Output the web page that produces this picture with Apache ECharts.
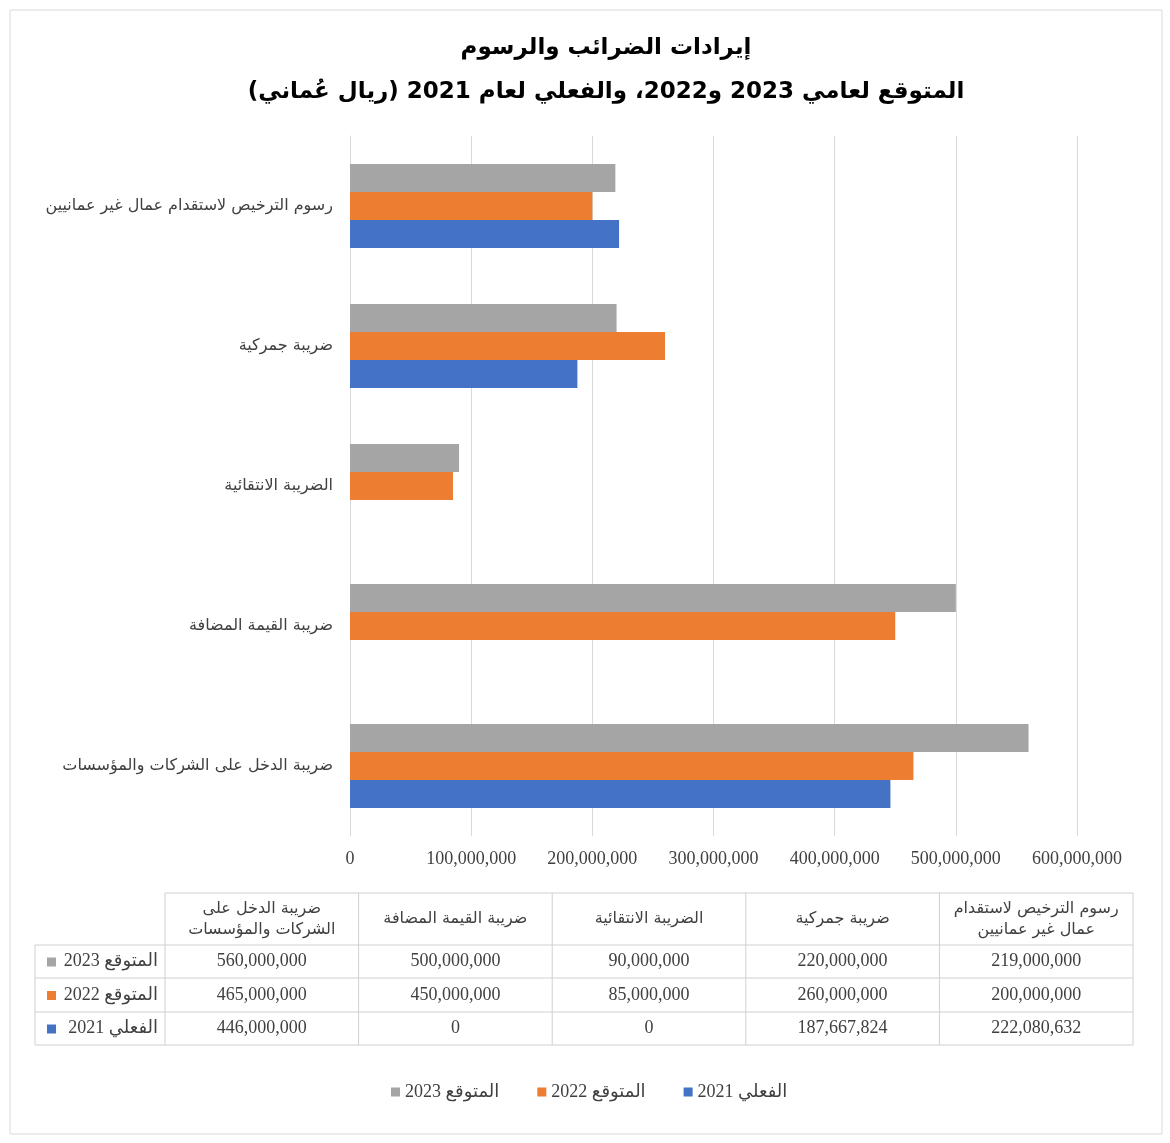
<!DOCTYPE html>
<html>
<head>
<meta charset="utf-8">
<script src="https://cdn.jsdelivr.net/npm/echarts@6/dist/echarts.min.js"></script>
<style>
  html, body { margin: 0; padding: 0; background: #fff; }
  #chart { width: 1170px; height: 1143px; direction: rtl; }
</style>
</head>
<body>
<div id="chart"></div>
<script>
// categories, bottom to top on the y axis (also left to right in the table)
const categories = [
  "ضريبة الدخل على الشركات والمؤسسات",
  "ضريبة القيمة المضافة",
  "الضريبة الانتقائية",
  "ضريبة جمركية",
  "رسوم الترخيص لاستقدام عمال غير عمانيين"
];
// header text in the data table (wrapped)
const tableHeaders = [
  "ضريبة الدخل على\nالشركات والمؤسسات",
  "ضريبة القيمة المضافة",
  "الضريبة الانتقائية",
  "ضريبة جمركية",
  "رسوم الترخيص لاستقدام\nعمال غير عمانيين"
];
const seriesNames = ["الفعلي 2021", "المتوقع 2022", "المتوقع 2023"];
const actual2021 = [446000000, 0, 0, 187667824, 222080632];
const expected2022 = [465000000, 450000000, 85000000, 260000000, 200000000];
const expected2023 = [560000000, 500000000, 90000000, 220000000, 219000000];
const xTicks = [0, 100000000, 200000000, 300000000, 400000000, 500000000, 600000000];

const titleLines = [
  "إيرادات الضرائب والرسوم",
  "المتوقع لعامي 2023 و2022، والفعلي لعام 2021 (ريال عُماني)"
];

const colors = ["#4472C4", "#ED7D31", "#A5A5A5"];
const seriesData = [actual2021, expected2022, expected2023];
const numFont = "'Liberation Serif', 'DejaVu Sans', serif";
const arFont = "'DejaVu Sans', sans-serif";
const fmt = v => v.toLocaleString("en-US");

const chart = echarts.init(document.getElementById("chart"));

// data table geometry
const tLeft = 165, tRight = 1133, labelLeft = 35;
const colW = (tRight - tLeft) / categories.length;
const rowY = [893, 945, 978, 1012, 1045];
const lineColor = "#d0d0d0";

const graphics = [];
// outer frame
graphics.push({
  type: "rect", shape: { x: 10, y: 10, width: 1152, height: 1124 },
  style: { fill: "none", stroke: "#d9d9d9", lineWidth: 1 }, silent: true
});
// title
titleLines.forEach((t, i) => {
  graphics.push({
    type: "text", x: 606, y: i === 0 ? 48 : 92,
    style: {
      text: t, font: "bold 23px " + arFont, fill: "#000",
      textAlign: "center", textVerticalAlign: "middle"
    }
  });
});

// table lines
const hLine = (x1, x2, y) => graphics.push({
  type: "line", shape: { x1, y1: y, x2, y2: y },
  style: { stroke: lineColor, lineWidth: 1 }, silent: true
});
const vLine = (x, y1, y2) => graphics.push({
  type: "line", shape: { x1: x, y1, x2: x, y2 },
  style: { stroke: lineColor, lineWidth: 1 }, silent: true
});
hLine(tLeft, tRight, rowY[0]);
for (let i = 1; i < rowY.length; i++) hLine(labelLeft, tRight, rowY[i]);
vLine(labelLeft, rowY[1], rowY[4]);
for (let c = 0; c <= categories.length; c++) vLine(tLeft + c * colW, rowY[0], rowY[4]);

// header cells
tableHeaders.forEach((h, c) => {
  graphics.push({
    type: "text", x: tLeft + (c + 0.5) * colW, y: (rowY[0] + rowY[1]) / 2,
    style: {
      text: h, font: "16px " + arFont, fill: "#404040", lineHeight: 21,
      textAlign: "center", textVerticalAlign: "middle"
    }
  });
});

// data rows: 2023, 2022, 2021 top to bottom
[2, 1, 0].forEach((s, r) => {
  const yMid = (rowY[r + 1] + rowY[r + 2]) / 2;
  graphics.push({
    type: "rect", shape: { x: 47, y: yMid - 4, width: 9, height: 9 },
    style: { fill: colors[s] }
  });
  graphics.push({
    type: "text", x: 158, y: yMid,
    style: {
      text: seriesNames[s], font: "18px " + numFont, fill: "#404040",
      textAlign: "right", textVerticalAlign: "middle"
    }
  });
  seriesData[s].forEach((v, c) => {
    graphics.push({
      type: "text", x: tLeft + (c + 0.5) * colW, y: yMid,
      style: {
        text: fmt(v), font: "18px " + numFont, fill: "#404040",
        textAlign: "center", textVerticalAlign: "middle"
      }
    });
  });
});

// series drawn 2023 first so that it sits at the top of each group
const barOrder = [2, 1, 0];

const option = {
  animation: false,
  grid: { left: 350, right: 93, top: 136, bottom: 307, containLabel: false },
  legend: {
    data: [seriesNames[2], seriesNames[1], seriesNames[0]],
    left: 386, top: 1078,
    itemWidth: 9, itemHeight: 9, itemGap: 38,
    icon: "rect",
    textStyle: { fontFamily: numFont, fontSize: 18, color: "#404040" }
  },
  xAxis: {
    type: "value",
    min: 0, max: 600000000, interval: 100000000,
    axisLine: { show: false },
    axisTick: { show: false },
    splitLine: { lineStyle: { color: "#d9d9d9", width: 1 } },
    axisLabel: {
      margin: 14,
      fontFamily: numFont, fontSize: 18, color: "#404040",
      formatter: v => fmt(v)
    }
  },
  yAxis: {
    type: "category",
    data: categories,
    axisLine: { show: true, lineStyle: { color: "#d9d9d9" } },
    axisTick: { show: false },
    axisLabel: {
      margin: 17,
      fontFamily: arFont, fontSize: 16, color: "#404040"
    }
  },
  series: barOrder.map(i => ({
    name: seriesNames[i],
    type: "bar",
    data: seriesData[i],
    barWidth: 28,
    barGap: "0%",
    itemStyle: { color: colors[i] }
  })),
  graphic: graphics
};

chart.setOption(option);
</script>
</body>
</html>
